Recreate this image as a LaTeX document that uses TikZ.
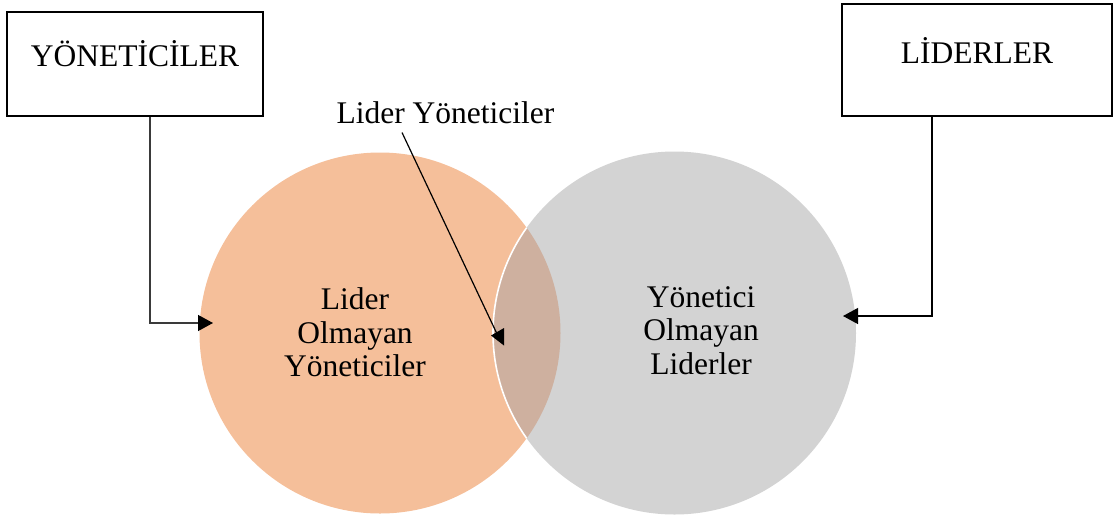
\documentclass[tikz,border=0pt]{standalone}
\usepackage{fontspec}
\setmainfont{Liberation Serif}
\usetikzlibrary{arrows.meta}

\definecolor{peach}{HTML}{F5BF9A}
\definecolor{silver}{HTML}{D3D3D3}
\definecolor{blend}{HTML}{CEB09F}
\definecolor{wire}{HTML}{3A3A3A}

\tikzset{
  txt/.style={font=\fontsize{31.5}{33.5}\selectfont, inner sep=2pt, align=center},
  titlebox/.style={draw=black, line width=2.2pt, inner sep=0pt, text height=22pt, font=\fontsize{31.5}{33.5}\selectfont},
  conn/.style={line width=1.3pt, -{Triangle[length=15pt,width=16pt,color=black]}},
}

\begin{document}
\begin{tikzpicture}[x=1pt,y=-1pt]
\useasboundingbox (0,0) rectangle (1114,515);

% the two sets
\fill[peach]  (380,333)   circle (180.5pt);
\fill[silver] (674.5,333) circle (181.5pt);
\begin{scope}
  \clip (380,333) circle (180.5pt);
  \fill[blend] (674.5,333) circle (181.5pt);
  \draw[white, line width=1.6pt] (674.5,333) circle (181.5pt);
\end{scope}

% set labels
\node[txt] (lset) at (355,332.7) {Lider\\Olmayan\\Yöneticiler};
\node[txt] (rset) at (701,330.7) {Yönetici\\Olmayan\\Liderler};

% title boxes
\node[titlebox, minimum width=256pt, minimum height=104pt, text depth=18pt] (lbox) at (135,64) {YÖNETİCİLER};
\node[titlebox, minimum width=270pt, minimum height=112pt, text depth=15.4pt] (rbox) at (977,60) {LİDERLER};

% intersection label
\node[txt, anchor=base] (mid) at (445.5,123) {Lider Yöneticiler};

% arrow ends
\coordinate (ltip) at (213,323);
\coordinate (rtip) at (843,316);
\coordinate (mend) at (498,336);

% connectors
\draw[conn, draw=wire] ([xshift=15pt]lbox.south) |- (ltip);
\draw[conn, draw=black] ([xshift=-45pt]rbox.south) |- (rtip);
\draw[line width=1.2pt] ([xshift=-43.5pt,yshift=-7pt]mid.south) -- (mend);
\fill[black] (491,335.5) -- (504,328) -- (504,345.5) -- cycle;

\end{tikzpicture}
\end{document}
